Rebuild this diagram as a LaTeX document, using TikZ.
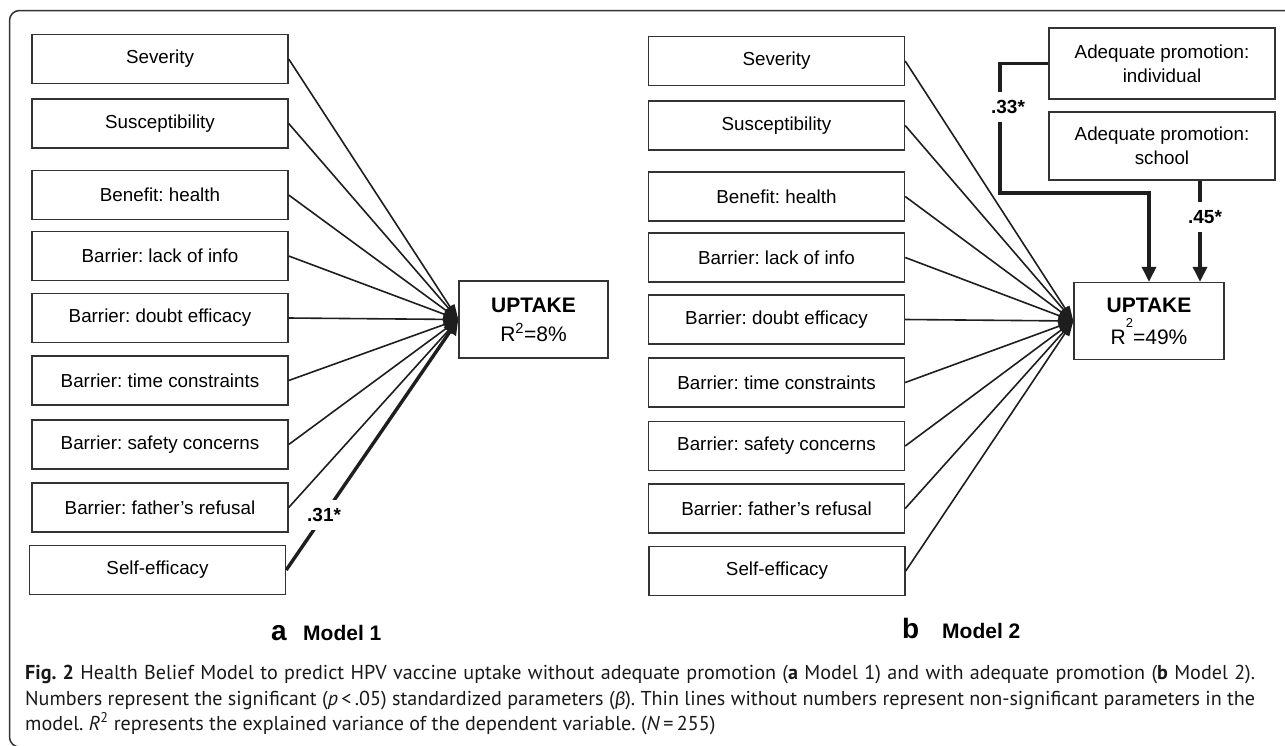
\documentclass[tikz,border=0pt]{standalone}
\usepackage{fontspec}
\setmainfont{Liberation Sans}
\newfontfamily\capfont{PT Sans}
\newfontfamily\grkfont{Carlito}
\usetikzlibrary{arrows.meta}
\definecolor{linec}{HTML}{1E1E1E}
\definecolor{boxc}{HTML}{333333}
\frenchspacing
\newlength\capwa
\newlength\capwb
\newcommand\capa{\textbf{Fig. 2} Health Belief Model to predict HPV vaccine uptake without adequate promotion (\textbf{a} Model 1) and with adequate promotion (\textbf{b} Model 2).}
\newcommand\capb{Numbers represent the significant (\textit{p}\,<\,.05) standardized parameters ({\grkfont\itshape β}). Thin lines without numbers represent non-significant parameters in the}
\newcommand\capc{model. \textit{R}\textsuperscript{2} represents the explained variance of the dependent variable. (\textit{N}\,=\,255)}
\AtBeginDocument{%
  \frenchspacing
  \settowidth\capwa{\capfont\fontsize{20}{24}\selectfont\capa}%
  \settowidth\capwb{\capfont\fontsize{20}{24}\selectfont\capb}%
  \xdef\capsz{\fpeval{20*1230/max(\capwa,\capwb,1)}}%
}
\tikzset{
  box/.style={draw=boxc, line width=1.4pt, minimum width=256pt, minimum height=49pt, inner sep=0pt, align=center, font=\fontsize{18.8}{24}\selectfont},
  upt/.style={draw=boxc, line width=1.4pt, minimum height=77pt, inner sep=0pt, align=center},
  thinl/.style={draw=linec, line width=1.6pt, -{Triangle[length=15pt,width=10pt]}},
  thickl/.style={draw=linec, line width=3.4pt, -{Triangle[length=15pt,width=14pt]}},
  coef/.style={fill=white, font=\bfseries\fontsize{19}{22}\selectfont, inner xsep=2pt, inner ysep=8pt},
  panel/.style={anchor=base west, inner sep=0pt},
}
\begin{document}
\begin{tikzpicture}[x=1pt,y=-1pt]
\useasboundingbox (0,0) rectangle (1285,745);
\clip (0,0) rectangle (1285,745);
% frame
\draw[draw=black!80, line width=1.5pt, rounded corners=10pt] (9.5,10.5) rectangle (1300,747);

% ---------- Model 1 ----------
\node[box] (a1) at (160,59) {Severity};
\node[box] (a2) at (160,123.5) {Susceptibility};
\node[box] (a3) at (160,195) {Benefit: health};
\node[box] (a4) at (160,256) {Barrier: lack of info};
\node[box] (a5) at (160,318) {Barrier: doubt efficacy};
\node[box] (a6) at (160,380.5) {Barrier: time constraints};
\node[box] (a7) at (160,444.5) {Barrier: safety concerns};
\node[box] (a8) at (160,507.5) {Barrier: father’s refusal};
\node[box] (a9) at (157.5,570) {Self-efficacy};
\node[upt, minimum width=149pt, font=\fontsize{21}{29}\selectfont] (u1) at (533.5,319.5) {\textbf{UPTAKE}\\R\textsuperscript{2}=8\%};
\foreach \i in {1,...,8} \draw[thinl] (a\i.east) -- (u1.west);
\draw[thickl] (a9.east) -- node[coef, pos=0.22] (l31) {.31*} (u1.west);
\node[panel, font=\bfseries\fontsize{28}{28}\selectfont] (pa) at (271,640.5) {a};
\node[panel, font=\bfseries\fontsize{21}{21}\selectfont] (ma) at (303,640.5) {Model 1};

% ---------- Model 2 ----------
\node[box] (b1) at (776.5,61) {Severity};
\node[box] (b2) at (776.5,125.5) {Susceptibility};
\node[box] (b3) at (776.5,196.5) {Benefit: health};
\node[box] (b4) at (776.5,257.5) {Barrier: lack of info};
\node[box] (b5) at (776.5,319.5) {Barrier: doubt efficacy};
\node[box] (b6) at (776.5,382.5) {Barrier: time constraints};
\node[box] (b7) at (776.5,446) {Barrier: safety concerns};
\node[box] (b8) at (776.5,508.5) {Barrier: father’s refusal};
\node[box] (b9) at (777,571) {Self-efficacy};
\node[upt, minimum width=150pt, font=\fontsize{21}{32}\selectfont] (u2) at (1149,321) {\textbf{UPTAKE}\\R\smash{\raisebox{17pt}{\fontsize{13}{13}\selectfont 2}}=49\%};
\node[box, minimum width=226pt, minimum height=71pt] (ind) at (1162,63.5) {Adequate promotion:\\individual};
\node[box, minimum width=226pt, minimum height=68pt] (sch) at (1162,146) {Adequate promotion:\\school};
\foreach \i in {1,...,9} \draw[thinl] (b\i.east) -- (u2.west);
\coordinate (k1) at (1000,193);
\coordinate (c45) at (1200,0);
\draw[thickl] (ind.west) -| (k1) -| (u2.north);
\draw[thickl] (sch.south -| c45) -- (u2.north -| c45);
\node[coef] (l33) at (1008,107) {.33*};
\node[coef] (l45) at (1205,217) {.45*};
\node[panel, font=\bfseries\fontsize{28}{28}\selectfont] (pb) at (902,638) {b};
\node[panel, font=\bfseries\fontsize{21}{21}\selectfont] (mb) at (942,638) {Model 2};

% ---------- caption ----------
\node[panel, text=black!90, font=\capfont\fontsize{\capsz}{24}\selectfont] (c1) at (25,679) {\makebox[1230pt][s]{\capa}};
\node[panel, text=black!90, font=\capfont\fontsize{\capsz}{24}\selectfont] (c2) at (25,705) {\makebox[1230pt][s]{\capb}};
\node[panel, text=black!90, font=\capfont\fontsize{\capsz}{24}\selectfont] (c3) at (25,730.5) {\capc};
\end{tikzpicture}
\end{document}
